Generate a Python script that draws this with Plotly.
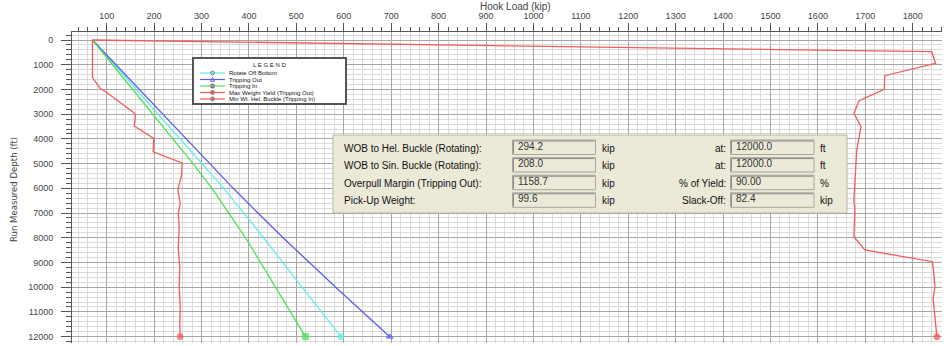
import plotly.graph_objects as go

# ---- Hook load vs. run measured depth (kip / ft) ----
depth_ft = [0, 2000, 4000, 5000, 6000, 7000, 8000, 10000, 12000]
rotate_off_bottom = [70, 162, 255, 301, 347, 389, 431, 512, 594]
tripping_out = [70, 169, 268, 317, 367, 419, 472, 583, 697]
tripping_in = [70, 155, 240, 282, 322, 358, 393, 456, 519]

max_yield_depth = [0, 473, 944, 1443, 1995, 2455, 2966, 3506, 4450, 5500,
                   6472, 6877, 7957, 8495, 8968, 9979, 10450, 12000]
max_yield_load = [70, 1840, 1848, 1741, 1740, 1687, 1676, 1691, 1682, 1679,
                  1676, 1678, 1676, 1699, 1842, 1847, 1843, 1851]

min_buckle_depth = [0, 1520, 1950, 2120, 2920, 3020, 3480, 3980, 4520, 4975,
                    5460, 6070, 6600, 7010, 7600, 8400, 9200, 10000, 10800,
                    11500, 12000]
min_buckle_load = [70, 70, 86, 100, 156, 161, 158, 199, 198, 259,
                   258, 250, 255, 251, 253, 251, 254, 253, 255, 254, 255]

series_names = ["Rotate Off Bottom", "Tripping Out", "Tripping In",
                "Max Weight Yield (Tripping Out)", "Min Wt. Hel. Buckle (Tripping In)"]
series_colors = ["#5eeeee", "#5c5cf0", "#52e052", "#f25c5c", "#f25c5c"]
series_symbols = ["circle", "triangle-up", "square", "circle", "circle"]

# summary panel
left_labels = ["WOB to Hel. Buckle (Rotating):", "WOB to Sin. Buckle (Rotating):",
               "Overpull Margin (Tripping Out):", "Pick-Up Weight:"]
left_values = ["294.2", "208.0", "1158.7", "99.6"]
left_units = ["kip", "kip", "kip", "kip"]
right_labels = ["at:", "at:", "% of Yield:", "Slack-Off:"]
right_values = ["12000.0", "12000.0", "90.00", "82.4"]
right_units = ["ft", "ft", "%", "kip"]

W, H = 948, 346
ML, MR, MT, MB = 72, 6, 32, 3
PW, PH = W - ML - MR, H - MT - MB


def fx(p):
    return (p - ML) / PW


def fy(p):
    return (H - MB - p) / PH


FONT = "Liberation Sans, Arial, sans-serif"

fig = go.Figure()

curves = [
    (rotate_off_bottom, depth_ft),
    (tripping_out, depth_ft),
    (tripping_in, depth_ft),
    (max_yield_load, max_yield_depth),
    (min_buckle_load, min_buckle_depth),
]
for (xs, ys), name, col, sym in zip(curves, series_names, series_colors, series_symbols):
    sizes = [0] * (len(xs) - 1) + [6]
    fig.add_trace(go.Scatter(
        x=xs, y=ys, name=name, mode="lines+markers",
        line=dict(color=col, width=1.3),
        marker=dict(symbol=sym, size=sizes, color=col,
                    line=dict(width=1, color=col), opacity=0.75),
        showlegend=False, cliponaxis=False,
    ))

shapes = []
annotations = []

# ---- legend box ----
lx0, ly0, lx1, ly1 = 193, 58, 346, 104
shapes.append(dict(type="rect", xref="paper", yref="paper",
                   x0=fx(lx0), x1=fx(lx1), y0=fy(ly1), y1=fy(ly0),
                   fillcolor="white", line=dict(color="#555555", width=2), layer="above"))
annotations.append(dict(text="L E G E N D", xref="paper", yref="paper",
                        x=fx((lx0 + lx1) / 2), y=fy(65), showarrow=False,
                        xanchor="center", yanchor="middle",
                        font=dict(family=FONT, size=6, color="#222")))
entry_y = [73.0, 79.5, 86.0, 92.5, 99.0]
for name, col, sym, ey in zip(series_names, series_colors, series_symbols, entry_y):
    shapes.append(dict(type="line", xref="paper", yref="paper",
                       x0=fx(200), x1=fx(225), y0=fy(ey), y1=fy(ey),
                       line=dict(color=col, width=1.2), layer="above"))
    if sym == "triangle-up":
        path = "M {} {} L {} {} L {} {} Z".format(
            fx(210.5), fy(ey + 1.8), fx(214.5), fy(ey + 1.8), fx(212.5), fy(ey - 2))
        shapes.append(dict(type="path", xref="paper", yref="paper", path=path,
                           line=dict(color=col, width=1), fillcolor="rgba(0,0,0,0)",
                           layer="above"))
    elif sym == "square":
        shapes.append(dict(type="rect", xref="paper", yref="paper",
                           x0=fx(211), x1=fx(214), y0=fy(ey + 1.8), y1=fy(ey - 1.8),
                           line=dict(color="#666", width=1), fillcolor="#aaa",
                           layer="above"))
    else:
        shapes.append(dict(type="circle", xref="paper", yref="paper",
                           x0=fx(210.5), x1=fx(214.5), y0=fy(ey + 2), y1=fy(ey - 2),
                           line=dict(color="#888", width=1), fillcolor=col,
                           layer="above"))
    annotations.append(dict(text=name, xref="paper", yref="paper",
                            x=fx(227), y=fy(ey), showarrow=False,
                            xanchor="left", yanchor="middle",
                            font=dict(family=FONT, size=6, color="#111")))

# ---- summary panel ----
px0, py0, px1, py1 = 333, 135, 847, 213
shapes.append(dict(type="rect", xref="paper", yref="paper",
                   x0=fx(px0), x1=fx(px1), y0=fy(py1), y1=fy(py0),
                   fillcolor="#ece9d8", line=dict(color="#b9b5a6", width=1), layer="above"))


def field_box(x0, x1, top, bottom):
    shapes.append(dict(type="rect", xref="paper", yref="paper",
                       x0=fx(x0), x1=fx(x1), y0=fy(bottom), y1=fy(top),
                       fillcolor="#ece9d8", line=dict(color="#a7a7a0", width=1),
                       layer="above"))
    shapes.append(dict(type="path", xref="paper", yref="paper",
                       path="M {} {} L {} {} L {} {}".format(
                           fx(x0 + 1), fy(bottom - 1), fx(x0 + 1), fy(top + 1),
                           fx(x1 - 1), fy(top + 1)),
                       line=dict(color="#8a8a86", width=1), layer="above"))


for i in range(4):
    ty = 148 + 17.6 * i
    top, bottom = ty - 8, ty + 6.5
    field_box(512.5, 595.5, top, bottom)
    field_box(730.5, 814, top, bottom)
    annotations.append(dict(text=left_labels[i], xref="paper", yref="paper",
                            x=fx(341.5), y=fy(ty), showarrow=False,
                            xanchor="left", yanchor="middle",
                            font=dict(family=FONT, size=10, color="#111")))
    annotations.append(dict(text=left_values[i], xref="paper", yref="paper",
                            x=fx(515.5), y=fy(ty - 2), showarrow=False,
                            xanchor="left", yanchor="middle",
                            font=dict(family=FONT, size=10, color="#333")))
    annotations.append(dict(text=left_units[i], xref="paper", yref="paper",
                            x=fx(600), y=fy(ty), showarrow=False,
                            xanchor="left", yanchor="middle",
                            font=dict(family=FONT, size=10, color="#111")))
    annotations.append(dict(text=right_labels[i], xref="paper", yref="paper",
                            x=fx(728), y=fy(ty), showarrow=False,
                            xanchor="right", yanchor="middle",
                            font=dict(family=FONT, size=10, color="#111")))
    annotations.append(dict(text=right_values[i], xref="paper", yref="paper",
                            x=fx(733.5), y=fy(ty - 2), showarrow=False,
                            xanchor="left", yanchor="middle",
                            font=dict(family=FONT, size=10, color="#333")))
    annotations.append(dict(text=right_units[i], xref="paper", yref="paper",
                            x=fx(818), y=fy(ty), showarrow=False,
                            xanchor="left", yanchor="middle",
                            font=dict(family=FONT, size=10, color="#111")))

# ---- axis titles ----
annotations.append(dict(text="Hook Load (kip)", xref="paper", yref="paper",
                        x=fx(515), y=fy(6.5), showarrow=False,
                        xanchor="center", yanchor="middle",
                        font=dict(family=FONT, size=10, color="#444")))
annotations.append(dict(text="Run Measured Depth (ft)", xref="paper", yref="paper",
                        x=fx(13), y=fy(189), showarrow=False, textangle=-90,
                        xanchor="center", yanchor="middle",
                        font=dict(family="Liberation Sans Narrow, DejaVu Sans Condensed, Arial Narrow, sans-serif",
                                  size=9.5, color="#444")))

fig.update_layout(
    width=W, height=H,
    margin=dict(l=ML, r=MR, t=MT, b=MB),
    paper_bgcolor="white", plot_bgcolor="white",
    shapes=shapes, annotations=annotations,
    showlegend=False,
    xaxis=dict(
        side="top", range=[26.8, 1861.8], dtick=100, tick0=0,
        ticks="outside", ticklen=8, tickcolor="#555", tickwidth=1,
        showgrid=True, gridcolor="#a6a6a6", gridwidth=1, zeroline=False,
        showline=True, linecolor="#555", linewidth=1, mirror=False,
        tickfont=dict(family=FONT, size=9, color="#444"),
        tickformat="d",
        minor=dict(dtick=20, tick0=0, ticks="outside", ticklen=4, tickcolor="#555",
                   showgrid=True, gridcolor="#dadada", gridwidth=1),
    ),
    yaxis=dict(
        range=[12257, -324], dtick=1000, tick0=0,
        ticks="outside", ticklen=10, tickcolor="#555", tickwidth=1,
        showgrid=True, gridcolor="#a6a6a6", gridwidth=1, zeroline=False,
        showline=True, linecolor="#555", linewidth=1,
        tickfont=dict(family=FONT, size=9, color="#444"),
        tickformat="d",
        ticklabelstandoff=6,
        minor=dict(dtick=200, tick0=0, ticks="outside", ticklen=5, tickcolor="#555",
                   showgrid=True, gridcolor="#dadada", gridwidth=1),
    ),
)

fig.write_html("out.html")
